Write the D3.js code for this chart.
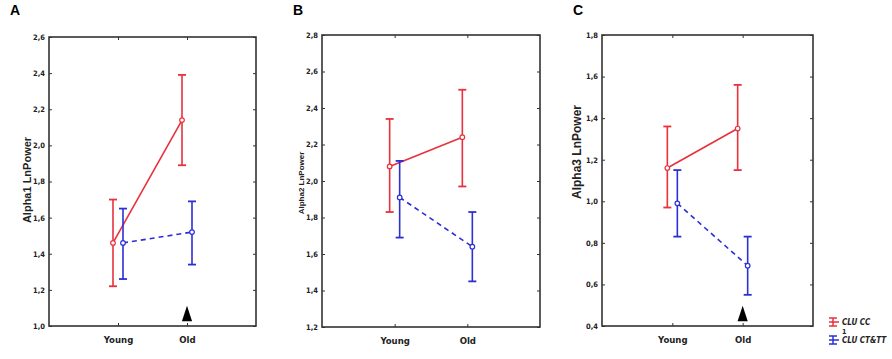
<!DOCTYPE html>
<html>
<head>
<meta charset="utf-8">
<script src="https://cdn.jsdelivr.net/npm/d3@7"></script>
<style>
  body { margin: 0; background: #fff; }
  text { font-family: "Liberation Sans Narrow", "DejaVu Sans Condensed", "Liberation Sans", Arial, sans-serif; }
</style>
</head>
<body>
<div id="chart"></div>
<script>
// groups on the x axis
const groups = ['Young', 'Old'];

// Panel A: Alpha1 LnPower
const alpha1CC = [1.46, 2.14];
const alpha1CCLow = [1.22, 1.89];
const alpha1CCHigh = [1.70, 2.39];
const alpha1CT = [1.46, 1.52];
const alpha1CTLow = [1.26, 1.34];
const alpha1CTHigh = [1.65, 1.69];

// Panel B: Alpha2 LnPower
const alpha2CC = [2.08, 2.24];
const alpha2CCLow = [1.83, 1.97];
const alpha2CCHigh = [2.34, 2.50];
const alpha2CT = [1.91, 1.64];
const alpha2CTLow = [1.69, 1.45];
const alpha2CTHigh = [2.11, 1.83];

// Panel C: Alpha3 LnPower
const alpha3CC = [1.16, 1.35];
const alpha3CCLow = [0.97, 1.15];
const alpha3CCHigh = [1.36, 1.56];
const alpha3CT = [0.99, 0.69];
const alpha3CTLow = [0.83, 0.55];
const alpha3CTHigh = [1.15, 0.83];

const yTicksA = [1.0, 1.2, 1.4, 1.6, 1.8, 2.0, 2.2, 2.4, 2.6];
const yTicksB = [1.2, 1.4, 1.6, 1.8, 2.0, 2.2, 2.4, 2.6, 2.8];
const yTicksC = [0.4, 0.6, 0.8, 1.0, 1.2, 1.4, 1.6, 1.8];

const legendLabels = ['CLU CC', 'CLU CT&TT'];

const colors = { cc: '#e8313c', ct: '#2b2fd6', frame: '#333' };

const svg = d3.select('#chart').append('svg')
    .attr('width', 892)
    .attr('height', 359);

const panels = [
    {letter: 'A', title: 'Alpha1  LnPower', titleSize: 11, titleX: 27, titleY: 180,
     box: {left: 49, top: 37, right: 256, bottom: 326}, ticks: yTicksA, arrow: true,
     cc: [alpha1CC, alpha1CCLow, alpha1CCHigh], ct: [alpha1CT, alpha1CTLow, alpha1CTHigh]},
    {letter: 'B', title: 'Alpha2 LnPower', titleSize: 8, titleX: 301, titleY: 183,
     box: {left: 322, top: 35, right: 540, bottom: 327}, ticks: yTicksB, arrow: false,
     cc: [alpha2CC, alpha2CCLow, alpha2CCHigh], ct: [alpha2CT, alpha2CTLow, alpha2CTHigh]},
    {letter: 'C', title: 'Alpha3  LnPower', titleSize: 12, titleX: 577, titleY: 152,
     box: {left: 602, top: 35, right: 813, bottom: 326}, ticks: yTicksC, arrow: true,
     cc: [alpha3CC, alpha3CCLow, alpha3CCHigh], ct: [alpha3CT, alpha3CTLow, alpha3CTHigh]}
];

const fmt = v => d3.format('.1f')(v).replace('.', ',');

panels.forEach(p => {
    const b = p.box;
    const x = d3.scalePoint().domain(groups).range([b.left, b.right]).padding(1);
    const y = d3.scaleLinear().domain(d3.extent(p.ticks)).range([b.bottom, b.top]);
    const g = svg.append('g');

    // panel letter
    svg.append('text')
        .attr('x', b.left - (p.letter === 'A' ? 39 : 29))
        .attr('y', 15)
        .style('font-family', '"Liberation Sans", Arial, sans-serif')
        .style('font-weight', 'bold')
        .style('font-size', '14px')
        .text(p.letter);

    // left axis with inward ticks
    g.append('g')
        .attr('transform', `translate(${b.left},0)`)
        .call(d3.axisLeft(y).tickValues(p.ticks).tickFormat(fmt).tickSize(-3).tickPadding(4))
        .call(a => a.select('.domain').remove())
        .call(a => a.selectAll('text').style('font-size', '7.5px').style('font-weight', 'bold').attr('fill', '#222'))
        .call(a => a.selectAll('line').attr('stroke', colors.frame));

    // right ticks
    g.append('g')
        .attr('transform', `translate(${b.right},0)`)
        .call(d3.axisRight(y).tickValues(p.ticks).tickFormat('').tickSize(-3))
        .call(a => a.select('.domain').remove())
        .call(a => a.selectAll('line').attr('stroke', colors.frame));

    // bottom axis
    g.append('g')
        .attr('transform', `translate(0,${b.bottom})`)
        .call(d3.axisBottom(x).tickSize(-3).tickPadding(10))
        .call(a => a.select('.domain').remove())
        .call(a => a.selectAll('text').style('font-size', '9.5px').style('font-weight', 'bold').attr('fill', '#222'))
        .call(a => a.selectAll('line').attr('stroke', colors.frame));

    // top ticks
    g.append('g')
        .attr('transform', `translate(0,${b.top})`)
        .call(d3.axisTop(x).tickSize(-3).tickFormat(''))
        .call(a => a.select('.domain').remove())
        .call(a => a.selectAll('line').attr('stroke', colors.frame));

    // frame
    g.append('rect')
        .attr('x', b.left).attr('y', b.top)
        .attr('width', b.right - b.left).attr('height', b.bottom - b.top)
        .attr('fill', 'none')
        .attr('stroke', colors.frame)
        .attr('stroke-width', 1.6);

    // axis title
    svg.append('text')
        .attr('transform', `translate(${p.titleX},${p.titleY}) rotate(-90)`)
        .attr('text-anchor', 'middle')
        .attr('dy', '0.35em')
        .style('font-family', '"Liberation Sans", Arial, sans-serif')
        .style('font-weight', 'bold')
        .style('font-size', p.titleSize + 'px')
        .attr('fill', '#222')
        .text(p.title);

    const series = [
        {vals: p.cc, color: colors.cc, off: -5, dash: null},
        {vals: p.ct, color: colors.ct, off: 5, dash: '5,4'}
    ];

    series.forEach(s => {
        const [mean, lo, hi] = s.vals;
        const pts = groups.map((k, i) => ({x: x(k) + s.off, m: mean[i], lo: lo[i], hi: hi[i]}));

        g.append('path')
            .datum(pts)
            .attr('fill', 'none')
            .attr('stroke', s.color)
            .attr('stroke-width', 1.6)
            .attr('stroke-dasharray', s.dash)
            .attr('d', d3.line().x(d => d.x).y(d => y(d.m)));

        const bars = g.selectAll(null).data(pts).enter().append('g');
        bars.append('line')
            .attr('x1', d => d.x).attr('x2', d => d.x)
            .attr('y1', d => y(d.lo)).attr('y2', d => y(d.hi))
            .attr('stroke', s.color).attr('stroke-width', 1.6);
        bars.append('line')
            .attr('x1', d => d.x - 4).attr('x2', d => d.x + 4)
            .attr('y1', d => y(d.lo)).attr('y2', d => y(d.lo))
            .attr('stroke', s.color).attr('stroke-width', 1.8);
        bars.append('line')
            .attr('x1', d => d.x - 4).attr('x2', d => d.x + 4)
            .attr('y1', d => y(d.hi)).attr('y2', d => y(d.hi))
            .attr('stroke', s.color).attr('stroke-width', 1.8);
        bars.append('circle')
            .attr('cx', d => d.x).attr('cy', d => y(d.m))
            .attr('r', 2.3)
            .attr('fill', '#fff')
            .attr('stroke', s.color)
            .attr('stroke-width', 1.2);
    });

    // significance marker under "Old"
    if (p.arrow) {
        const ax = x('Old');
        g.append('path')
            .attr('d', d3.symbol().type(d3.symbolTriangle).size(70)())
            .attr('transform', `translate(${ax},${b.bottom - 10}) scale(0.8,1.4)`)
            .attr('fill', '#000');
    }
});

// legend
const legend = svg.append('g').attr('transform', 'translate(833,322)');
[colors.cc, colors.ct].forEach((c, i) => {
    const gy = i * 18;
    const item = legend.append('g').attr('transform', `translate(0,${gy})`);
    item.append('line').attr('x1', 0).attr('x2', 0).attr('y1', -4).attr('y2', 4).attr('stroke', c).attr('stroke-width', 1.5);
    item.append('line').attr('x1', -4).attr('x2', 4).attr('y1', -4).attr('y2', -4).attr('stroke', c).attr('stroke-width', 1.5);
    item.append('line').attr('x1', -4).attr('x2', 4).attr('y1', 4).attr('y2', 4).attr('stroke', c).attr('stroke-width', 1.5);
    item.append('line').attr('x1', -4).attr('x2', 6).attr('y1', 0).attr('y2', 0).attr('stroke', c).attr('stroke-width', 1.5);
    item.append('text')
        .attr('x', 9).attr('y', 3)
        .style('font-size', '8px')
        .style('font-weight', 'bold')
        .style('font-style', 'italic')
        .attr('fill', '#222')
        .text(legendLabels[i]);
});
legend.append('text')
    .attr('x', 9).attr('y', 11.5)
    .style('font-size', '7px')
    .style('font-weight', 'bold')
    .attr('fill', '#222')
    .text('1');
</script>
</body>
</html>
